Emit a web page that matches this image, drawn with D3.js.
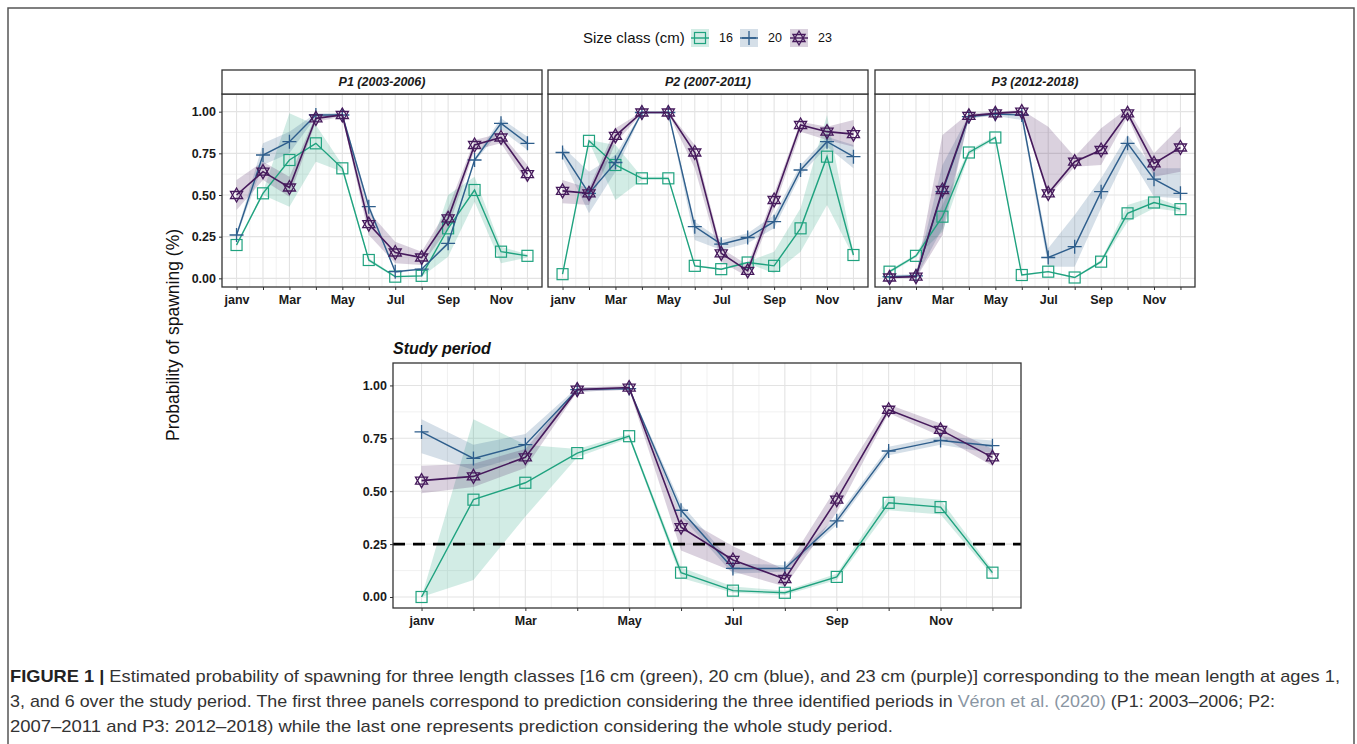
<!DOCTYPE html>
<html>
<head>
<meta charset="utf-8">
<script src="https://cdn.jsdelivr.net/npm/d3@7"></script>
<style>
  body { margin: 0; background: #fff; }
  svg { display: block; font-family: "Liberation Sans", Arial, sans-serif; }
</style>
</head>
<body>
<div id="chart"></div>
<script>
// months 1..12, labels only on odd months
const months = d3.range(1, 13);
const monthLabels = ["janv", "", "Mar", "", "May", "", "Jul", "", "Sep", "", "Nov", ""];
const yTicks = [0, 0.25, 0.5, 0.75, 1];
const sizeClasses = ["16", "20", "23"];
const colors = ["#1fa27f", "#2e5e8c", "#461a5c"];

// P1 (2003-2006)
const p1_16 = [0.20, 0.51, 0.71, 0.81, 0.66, 0.11, 0.01, 0.015, 0.30, 0.53, 0.16, 0.135];
const p1_16lo = [0.19, 0.50, 0.43, 0.70, 0.64, 0.10, 0.005, 0.01, 0.13, 0.46, 0.09, 0.125];
const p1_16hi = [0.21, 0.52, 0.99, 0.92, 0.68, 0.12, 0.015, 0.02, 0.50, 0.61, 0.19, 0.145];
const p1_20 = [0.26, 0.74, 0.82, 0.98, 0.98, 0.43, 0.04, 0.055, 0.21, 0.71, 0.93, 0.81];
const p1_20lo = [0.25, 0.68, 0.75, 0.97, 0.97, 0.41, 0.035, 0.05, 0.20, 0.70, 0.89, 0.77];
const p1_20hi = [0.27, 0.81, 0.88, 0.99, 0.99, 0.45, 0.045, 0.06, 0.22, 0.72, 0.96, 0.85];
const p1_23 = [0.50, 0.64, 0.545, 0.96, 0.98, 0.325, 0.155, 0.125, 0.36, 0.80, 0.845, 0.625];
const p1_23lo = [0.41, 0.59, 0.49, 0.94, 0.97, 0.26, 0.09, 0.08, 0.30, 0.77, 0.81, 0.57];
const p1_23hi = [0.59, 0.70, 0.61, 0.98, 0.99, 0.40, 0.22, 0.16, 0.42, 0.83, 0.87, 0.68];

// P2 (2007-2011)
const p2_16 = [0.025, 0.825, 0.68, 0.60, 0.60, 0.075, 0.055, 0.095, 0.075, 0.30, 0.73, 0.14];
const p2_16lo = [0.02, 0.82, 0.47, 0.59, 0.59, 0.07, 0.05, 0.09, 0.03, 0.16, 0.44, 0.13];
const p2_16hi = [0.03, 0.83, 0.80, 0.61, 0.61, 0.08, 0.06, 0.10, 0.16, 0.42, 0.98, 0.15];
const p2_20 = [0.755, 0.51, 0.695, 0.995, 0.995, 0.31, 0.205, 0.245, 0.34, 0.65, 0.82, 0.73];
const p2_20lo = [0.72, 0.39, 0.64, 0.99, 0.99, 0.23, 0.17, 0.21, 0.30, 0.62, 0.79, 0.66];
const p2_20hi = [0.79, 0.64, 0.74, 1.0, 1.0, 0.34, 0.23, 0.27, 0.38, 0.68, 0.85, 0.80];
const p2_23 = [0.525, 0.51, 0.855, 0.995, 0.995, 0.755, 0.15, 0.045, 0.47, 0.92, 0.88, 0.865];
const p2_23lo = [0.45, 0.44, 0.81, 0.99, 0.99, 0.66, 0.10, 0.01, 0.42, 0.88, 0.83, 0.79];
const p2_23hi = [0.59, 0.54, 0.90, 1.0, 1.0, 0.80, 0.18, 0.08, 0.51, 0.94, 0.91, 0.95];

// P3 (2012-2018)
const p3_16 = [0.04, 0.135, 0.37, 0.755, 0.845, 0.02, 0.04, 0.005, 0.10, 0.39, 0.455, 0.415];
const p3_16lo = [0.03, 0.125, 0.28, 0.74, 0.835, 0.015, 0.035, 0.0, 0.09, 0.34, 0.42, 0.40];
const p3_16hi = [0.05, 0.145, 0.44, 0.77, 0.855, 0.025, 0.045, 0.01, 0.11, 0.44, 0.49, 0.43];
const p3_20 = [0.01, 0.015, 0.52, 0.97, 0.985, 0.98, 0.125, 0.19, 0.52, 0.81, 0.595, 0.51];
const p3_20lo = [0.0, 0.005, 0.30, 0.96, 0.975, 0.95, 0.07, 0.07, 0.42, 0.75, 0.49, 0.48];
const p3_20hi = [0.02, 0.025, 0.68, 0.98, 0.995, 0.99, 0.18, 0.38, 0.60, 0.86, 0.66, 0.66];
const p3_23 = [0.005, 0.01, 0.53, 0.975, 0.99, 1.0, 0.51, 0.70, 0.77, 0.99, 0.69, 0.785];
const p3_23lo = [0.0, 0.0, 0.26, 0.96, 0.98, 0.99, 0.49, 0.67, 0.68, 0.97, 0.61, 0.64];
const p3_23hi = [0.01, 0.02, 0.86, 0.99, 1.0, 1.01, 0.91, 0.73, 0.90, 1.02, 0.75, 0.91];

// whole study period
const all_16 = [0.0, 0.46, 0.54, 0.68, 0.76, 0.115, 0.03, 0.02, 0.095, 0.445, 0.425, 0.115];
const all_16lo = [0.0, 0.08, 0.38, 0.66, 0.75, 0.09, 0.02, 0.01, 0.08, 0.41, 0.39, 0.10];
const all_16hi = [0.0, 0.84, 0.72, 0.70, 0.77, 0.14, 0.05, 0.03, 0.11, 0.48, 0.46, 0.13];
const all_20 = [0.78, 0.655, 0.72, 0.98, 0.985, 0.41, 0.135, 0.135, 0.36, 0.69, 0.74, 0.715];
const all_20lo = [0.68, 0.60, 0.67, 0.97, 0.98, 0.38, 0.11, 0.12, 0.34, 0.67, 0.72, 0.68];
const all_20hi = [0.84, 0.72, 0.77, 0.99, 0.99, 0.44, 0.16, 0.15, 0.38, 0.71, 0.76, 0.74];
const all_23 = [0.55, 0.57, 0.66, 0.98, 0.99, 0.33, 0.175, 0.085, 0.46, 0.885, 0.79, 0.66];
const all_23lo = [0.49, 0.52, 0.61, 0.97, 0.98, 0.22, 0.12, 0.05, 0.40, 0.87, 0.76, 0.62];
const all_23hi = [0.62, 0.63, 0.70, 0.99, 1.0, 0.38, 0.24, 0.13, 0.52, 0.91, 0.82, 0.70];

const threshold = 0.25;

const W = 1357, H = 744;
const svg = d3.select("#chart").append("svg").attr("width", W).attr("height", H);

// figure frame
svg.append("rect").attr("x", 8).attr("y", 8).attr("width", 1346).attr("height", 800)
  .attr("fill", "none").attr("stroke", "#555").attr("stroke-width", 1.5);

const shapeSize = 7;
const drawMarker = (sel, k, c) => {
  if (k === 0) {
    sel.append("rect").attr("x", -5.5).attr("y", -5.5).attr("width", 11).attr("height", 11)
      .attr("fill", "none").attr("stroke", c).attr("stroke-width", 1.2);
  } else if (k === 1) {
    sel.append("path").attr("d", `M${-shapeSize},0H${shapeSize}M0,${-shapeSize}V${shapeSize}`)
      .attr("stroke", c).attr("stroke-width", 1.3).attr("fill", "none");
  } else {
    const r = shapeSize;
    const tri = (s) => d3.range(3).map(i => {
      const a = -Math.PI / 2 + s * Math.PI + i * 2 * Math.PI / 3;
      return [r * Math.cos(a), r * Math.sin(a)];
    });
    [0, 1].forEach(s => {
      sel.append("path").attr("d", d3.line()(tri(s)) + "Z")
        .attr("fill", "none").attr("stroke", c).attr("stroke-width", 1.3);
    });
  }
};

const drawPanel = (box, series, opts) => {
  const x = d3.scaleLinear().domain([0.45, 12.55]).range([box.x0, box.x1]);
  const y = d3.scaleLinear().domain([-0.052, 1.106]).range([box.y1, box.y0]);
  const g = svg.append("g");

  // grid
  const minorX = d3.range(1.5, 12.5, 1);
  const minorY = d3.range(0.125, 1, 0.25);
  g.selectAll(".mx").data(minorX).join("line")
    .attr("x1", d => x(d)).attr("x2", d => x(d)).attr("y1", box.y0).attr("y2", box.y1)
    .attr("stroke", "#eeeeee").attr("stroke-width", 0.8);
  g.selectAll(".my").data(minorY).join("line")
    .attr("y1", d => y(d)).attr("y2", d => y(d)).attr("x1", box.x0).attr("x2", box.x1)
    .attr("stroke", "#eeeeee").attr("stroke-width", 0.8);
  g.selectAll(".gx").data(months).join("line")
    .attr("x1", d => x(d)).attr("x2", d => x(d)).attr("y1", box.y0).attr("y2", box.y1)
    .attr("stroke", "#e3e3e3").attr("stroke-width", 1.1);
  g.selectAll(".gy").data(yTicks).join("line")
    .attr("y1", d => y(d)).attr("y2", d => y(d)).attr("x1", box.x0).attr("x2", box.x1)
    .attr("stroke", "#e3e3e3").attr("stroke-width", 1.1);

  // ribbons
  series.forEach((s, k) => {
    const area = d3.area().x((d, i) => x(months[i])).y0((d, i) => y(s.lo[i])).y1((d, i) => y(s.hi[i]));
    g.append("path").attr("d", area(s.v)).attr("fill", colors[k]).attr("fill-opacity", 0.2);
  });

  if (opts.threshold !== undefined) {
    g.append("line").attr("x1", box.x0).attr("x2", box.x1)
      .attr("y1", y(opts.threshold)).attr("y2", y(opts.threshold))
      .attr("stroke", "#000").attr("stroke-width", 2.8).attr("stroke-dasharray", "12,8");
  }

  // lines + markers
  series.forEach((s, k) => {
    const line = d3.line().x((d, i) => x(months[i])).y(d => y(d));
    g.append("path").attr("d", line(s.v)).attr("fill", "none")
      .attr("stroke", colors[k]).attr("stroke-width", k === 2 ? 1.6 : 1.4);
    s.v.forEach((d, i) => {
      const m = g.append("g").attr("transform", `translate(${x(months[i])},${y(d)})`);
      drawMarker(m, k, colors[k]);
    });
  });

  // panel border
  g.append("rect").attr("x", box.x0).attr("y", box.y0)
    .attr("width", box.x1 - box.x0).attr("height", box.y1 - box.y0)
    .attr("fill", "none").attr("stroke", "#333").attr("stroke-width", 1.3);

  // axes
  const xAxis = g.append("g").attr("transform", `translate(0,${box.y1})`)
    .call(d3.axisBottom(x).tickValues(months).tickSize(3).tickPadding(5)
      .tickFormat((d, i) => monthLabels[i]));
  xAxis.select(".domain").remove();
  xAxis.selectAll("line").attr("stroke", "#333");
  xAxis.selectAll("text").attr("font-size", 12.5).attr("font-weight", "bold")
    .attr("fill", "#1a1a1a").attr("font-family", "Liberation Sans, Arial, sans-serif");

  if (opts.yLabels) {
    const yAxis = g.append("g").attr("transform", `translate(${box.x0},0)`)
      .call(d3.axisLeft(y).tickValues(yTicks).tickSize(3).tickPadding(3)
        .tickFormat(d3.format(".2f")));
    yAxis.select(".domain").remove();
    yAxis.selectAll("line").attr("stroke", "#333");
    yAxis.selectAll("text").attr("font-size", 12.5).attr("font-weight", "bold")
      .attr("fill", "#1a1a1a").attr("font-family", "Liberation Sans, Arial, sans-serif");
  }

  if (opts.strip) {
    g.append("rect").attr("x", box.x0).attr("y", box.y0 - 24)
      .attr("width", box.x1 - box.x0).attr("height", 24)
      .attr("fill", "#fff").attr("stroke", "#333").attr("stroke-width", 1.3);
    g.append("text").attr("x", (box.x0 + box.x1) / 2).attr("y", box.y0 - 12)
      .attr("dy", "0.35em").attr("text-anchor", "middle")
      .attr("font-size", 12.5).attr("font-weight", "bold").attr("font-style", "italic")
      .attr("fill", "#1a1a1a").text(opts.strip);
  }
  if (opts.title) {
    g.append("text").attr("x", box.x0).attr("y", box.y0 - 9)
      .attr("font-size", 16).attr("font-weight", "bold").attr("font-style", "italic")
      .attr("fill", "#111").text(opts.title);
  }
};

const mk = (v, lo, hi) => ({ v, lo, hi });

drawPanel({ x0: 222, x1: 542, y0: 94, y1: 287 },
  [mk(p1_16, p1_16lo, p1_16hi), mk(p1_20, p1_20lo, p1_20hi), mk(p1_23, p1_23lo, p1_23hi)],
  { strip: "P1 (2003-2006)", yLabels: true });
drawPanel({ x0: 548, x1: 868, y0: 94, y1: 287 },
  [mk(p2_16, p2_16lo, p2_16hi), mk(p2_20, p2_20lo, p2_20hi), mk(p2_23, p2_23lo, p2_23hi)],
  { strip: "P2 (2007-2011)", yLabels: false });
drawPanel({ x0: 875, x1: 1195, y0: 94, y1: 287 },
  [mk(p3_16, p3_16lo, p3_16hi), mk(p3_20, p3_20lo, p3_20hi), mk(p3_23, p3_23lo, p3_23hi)],
  { strip: "P3 (2012-2018)", yLabels: false });
drawPanel({ x0: 393, x1: 1021, y0: 363, y1: 608 },
  [mk(all_16, all_16lo, all_16hi), mk(all_20, all_20lo, all_20hi), mk(all_23, all_23lo, all_23hi)],
  { title: "Study period", yLabels: true, threshold: threshold });

// y axis title
svg.append("text").attr("transform", "translate(179,335) rotate(-90)")
  .attr("text-anchor", "middle").attr("font-size", 17.5).attr("fill", "#111")
  .text("Probability of spawning (%)");

// legend
const legend = svg.append("g").attr("transform", "translate(0,38)");
legend.append("text").attr("x", 583).attr("y", 0).attr("dy", "0.35em")
  .attr("font-size", 15).attr("fill", "#111").text("Size class (cm)");
const keyX = [691, 740, 790];
sizeClasses.forEach((lab, k) => {
  const kg = legend.append("g").attr("transform", `translate(${keyX[k]},0)`);
  kg.append("rect").attr("x", 0).attr("y", -9).attr("width", 18).attr("height", 18)
    .attr("fill", colors[k]).attr("fill-opacity", 0.2);
  kg.append("line").attr("x1", 0).attr("x2", 18).attr("y1", 0).attr("y2", 0)
    .attr("stroke", colors[k]).attr("stroke-width", 1.4);
  const m = kg.append("g").attr("transform", "translate(9,0)");
  drawMarker(m, k, colors[k]);
  legend.append("text").attr("x", keyX[k] + 28).attr("y", 0).attr("dy", "0.35em")
    .attr("font-size", 12.5).attr("fill", "#111").text(lab);
});

// caption, three lines stretched to the widths of the original condensed type
const capFont = "'Liberation Sans Narrow', 'Arial Narrow', 'Liberation Sans', sans-serif";
const capLine = (y, len) => svg.append("text").attr("x", 10).attr("y", y)
  .attr("font-family", capFont).attr("font-size", 17).attr("fill", "#333")
  .attr("textLength", len).attr("lengthAdjust", "spacingAndGlyphs");
const l1 = capLine(682, 1330);
l1.append("tspan").attr("font-weight", "bold").attr("fill", "#222").text("FIGURE 1 | ");
l1.append("tspan").text("Estimated probability of spawning for three length classes [16 cm (green), 20 cm (blue), and 23 cm (purple)] corresponding to the mean length at ages 1,");
const l2 = capLine(707, 1265);
l2.append("tspan").text("3, and 6 over the study period. The first three panels correspond to prediction considering the three identified periods in ");
l2.append("tspan").attr("fill", "#8a96a3").text("Véron et al. (2020)");
l2.append("tspan").text(" (P1: 2003–2006; P2:");
capLine(732, 883)
  .text("2007–2011 and P3: 2012–2018) while the last one represents prediction considering the whole study period.");
</script>
</body>
</html>
